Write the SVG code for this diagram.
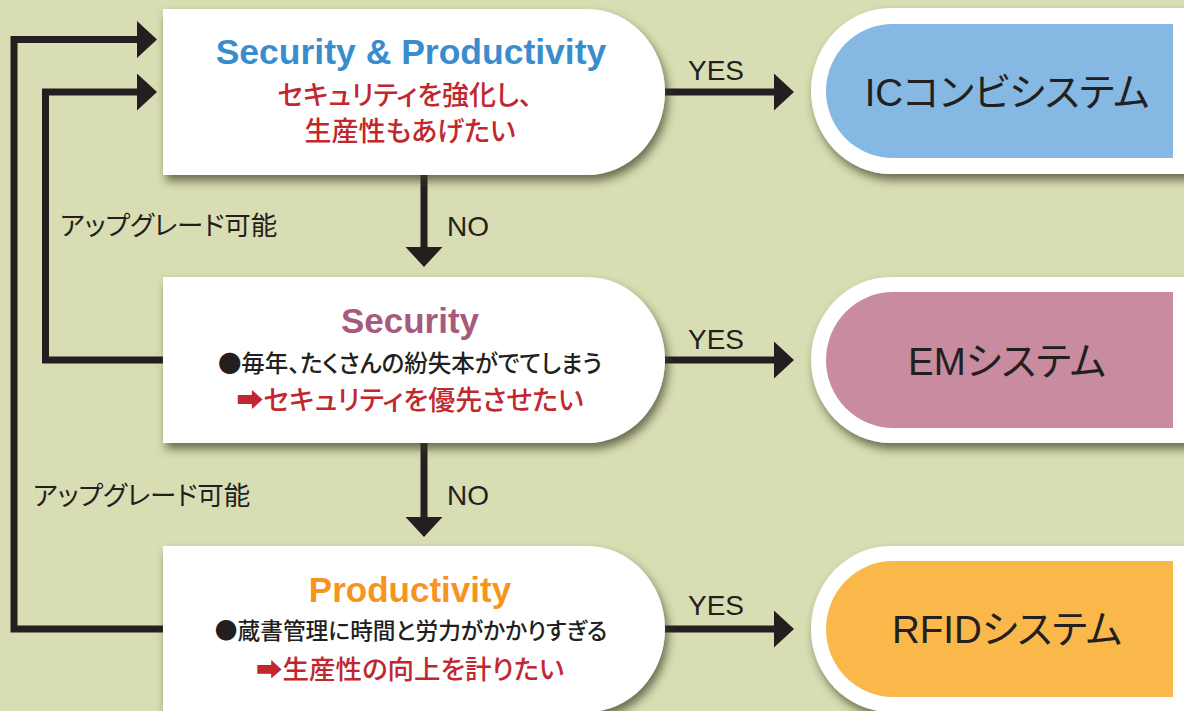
<svg xmlns="http://www.w3.org/2000/svg" width="1184" height="711" viewBox="0 0 1184 711">
<defs>
<filter id="sh" x="-10%" y="-15%" width="130%" height="145%">
<feDropShadow dx="3" dy="6" stdDeviation="5" flood-color="#3b3b22" flood-opacity="0.7"/>
</filter>
<marker id="ah" markerUnits="userSpaceOnUse" markerWidth="22" markerHeight="38" refX="1" refY="18.5" orient="auto">
<path d="M0,0 L20,18.5 L0,37 Z" fill="#231f20"/>
</marker>
</defs>
<style>
.node{fill:#fff;filter:url(#sh)}
.conn{fill:none;stroke:#231f20;stroke-width:7;stroke-linejoin:miter;marker-end:url(#ah)}
.jp{font-family:"Noto Sans CJK JP","DejaVu Sans",sans-serif;font-feature-settings:"palt";font-weight:500}
.head{font-family:"Liberation Sans",Arial,sans-serif;font-weight:bold;font-size:35px;text-anchor:middle}
.red{fill:#c1272d;font-size:27px;text-anchor:middle}
.blk{fill:#231f20;font-size:23px;text-anchor:middle}
.lbl{font-family:"Liberation Sans",Arial,sans-serif;font-size:28px;fill:#231f20}
.up{fill:#231f20;font-size:26.5px;font-weight:400}
.res{font-family:"Liberation Sans","Noto Sans CJK JP",sans-serif;font-feature-settings:"palt";font-size:38.5px;fill:#231f20;text-anchor:middle}
</style>
<rect width="1184" height="711" fill="#d8ddb3"/>

<g id="connectors">
<polyline class="conn" points="163,629 14,629 14,39.5 138,39.5"/>
<polyline class="conn" points="163,360 45.5,360 45.5,92 138,92"/>
<line class="conn" x1="424" y1="170" x2="424" y2="248"/>
<line class="conn" x1="424" y1="438" x2="424" y2="518"/>
<line class="conn" x1="655" y1="92" x2="775" y2="92"/>
<line class="conn" x1="655" y1="360" x2="775" y2="360"/>
<line class="conn" x1="655" y1="629" x2="775" y2="629"/>
<text class="lbl" x="688" y="80">YES</text>
<text class="lbl" x="688" y="349">YES</text>
<text class="lbl" x="688" y="615">YES</text>
<text class="lbl" x="447" y="236">NO</text>
<text class="lbl" x="447" y="505">NO</text>
<text class="jp up" x="60" y="235">アップグレード可能</text>
<text class="jp up" x="33" y="505">アップグレード可能</text>
</g>

<g id="node-q1">
<path class="node" d="M163,9 H587 A78,83 0 0 1 665,92 A78,83 0 0 1 587,175 H163 Z"/>
<text class="head" x="411" y="64" fill="#3a8dcd" style="font-size:35.5px">Security &amp; Productivity</text>
<text class="jp red" x="405" y="105">セキュリティを強化し、</text>
<text class="jp red" x="410" y="141">生産性もあげたい</text>
</g>

<g id="node-q2">
<path class="node" d="M163,277 H587 A78,83 0 0 1 665,360 A78,83 0 0 1 587,443 H163 Z"/>
<text class="head" x="410" y="333" fill="#a65a7c">Security</text>
<text class="jp blk" x="410" y="372" style="font-size:23.5px">●毎年、たくさんの紛失本がでてしまう</text>
<text class="jp red" x="410" y="410">➡セキュリティを優先させたい</text>
</g>

<g id="node-q3">
<path class="node" d="M163,546 H587 A78,83 0 0 1 665,629 A78,83 0 0 1 587,712 H163 Z"/>
<text class="head" x="410" y="602" fill="#f7941d">Productivity</text>
<text class="jp blk" x="411" y="639" style="font-size:22.7px">●蔵書管理に時間と労力がかかりすぎる</text>
<text class="jp red" x="410" y="679" style="font-size:26.5px">➡生産性の向上を計りたい</text>
</g>

<g id="node-ic">
<path class="node" d="M1200,8 H891 A80,83 0 0 0 811,91 A80,83 0 0 0 891,174 H1200 Z"/>
<path d="M1173,24 H893 A67,67 0 0 0 826,91 A67,67 0 0 0 893,158 H1173 Z" fill="#85b8e2"/>
<text class="res" x="1007" y="106">ICコンビシステム</text>
</g>

<g id="node-em">
<path class="node" d="M1200,277 H891 A80,83 0 0 0 811,360 A80,83 0 0 0 891,443 H1200 Z"/>
<path d="M1173,292 H893 A67,68 0 0 0 826,360 A67,68 0 0 0 893,428 H1173 Z" fill="#c98ba0"/>
<text class="res" x="1007" y="375">EMシステム</text>
</g>

<g id="node-rfid">
<path class="node" d="M1200,546 H891 A80,83 0 0 0 811,629 A80,83 0 0 0 891,712 H1200 Z"/>
<path d="M1173,561 H893 A67,68 0 0 0 826,629 A67,68 0 0 0 893,697 H1173 Z" fill="#fbb84a"/>
<text class="res" x="1007" y="643">RFIDシステム</text>
</g>
</svg>
